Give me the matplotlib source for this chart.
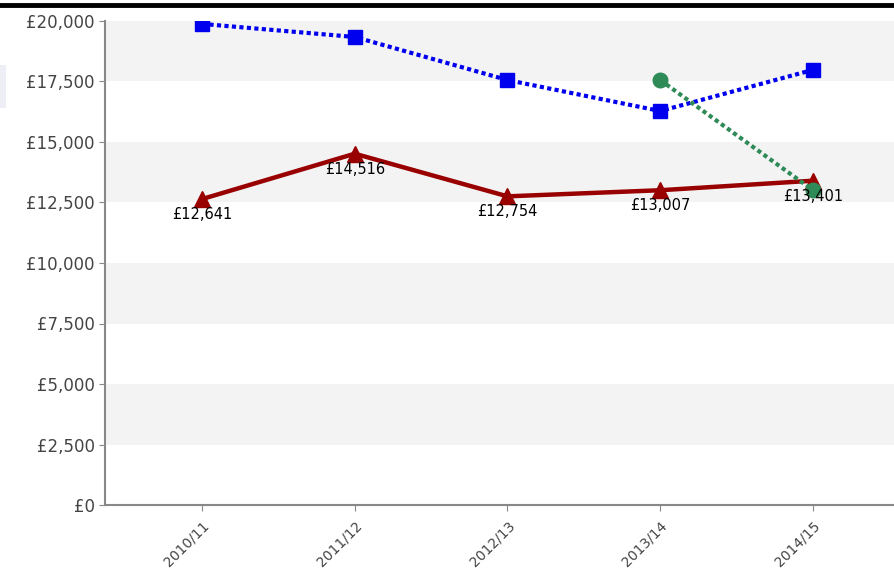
import matplotlib.pyplot as plt
import matplotlib.patches as mpatches
from matplotlib.lines import Line2D

# data
years = ['2010/11', '2011/12', '2012/13', '2013/14', '2014/15']
blue_vals = [19880, 19340, 17560, 16280, 17980]
red_vals = [12641, 14516, 12754, 13007, 13401]
green_years = ['2013/14', '2014/15']
green_vals = [17560, 13010]
yticks = [0, 2500, 5000, 7500, 10000, 12500, 15000, 17500, 20000]

fig = plt.figure(figsize=(8.95, 5.70), dpi=100)
ax = fig.add_axes([105 / 895, 65 / 570, 790 / 895, 484 / 570])

x = list(range(len(years)))
gx = [years.index(y) for y in green_years]

# alternating bands
for lo in [17500, 12500, 7500, 2500]:
    ax.axhspan(lo, lo + 2500, color='#f3f3f3', zorder=0, lw=0)

ax.plot(x, red_vals, color='#990000', lw=3.2, marker='^', ms=12, zorder=3)
ax.plot(x, blue_vals, color='#0000ee', lw=3, ls=(0, (1, 0.8)), marker='s', ms=10.5, zorder=4)
ax.plot(gx, green_vals, color='#2e8b57', lw=3, ls=(0, (1, 0.8)), marker='o', ms=10.5, zorder=5)

# data labels
for i, v in enumerate(red_vals):
    ax.text(i, v - 330, '£{:,}'.format(v), ha='center', va='top', fontsize=10.5, color='black', zorder=6)

ax.set_xlim(-0.635, 4.537)
ax.set_ylim(0, 20000)
ax.set_yticks(yticks)
ax.set_yticklabels(['£{:,}'.format(t) for t in yticks])
ax.set_xticks(x)
ax.set_xticklabels(years, rotation=45, ha='right', rotation_mode='anchor')

for s in ['top', 'right']:
    ax.spines[s].set_visible(False)
for s in ['left', 'bottom']:
    ax.spines[s].set_color('#888888')
    ax.spines[s].set_linewidth(1.5)
ax.tick_params(axis='both', colors='#888888', length=4, labelcolor='#444444', labelsize=12)
ax.tick_params(axis='x', labelsize=10, pad=6)

# top rule and left box from the cropped page
fig.add_artist(Line2D([0, 1], [1 - 5 / 570, 1 - 5 / 570], color='black', lw=3.5))
fig.add_artist(mpatches.Rectangle((0, 1 - 108 / 570), 6 / 895, 43 / 570, color='#eeeef6', lw=0))

plt.savefig('out.png', dpi=100)
